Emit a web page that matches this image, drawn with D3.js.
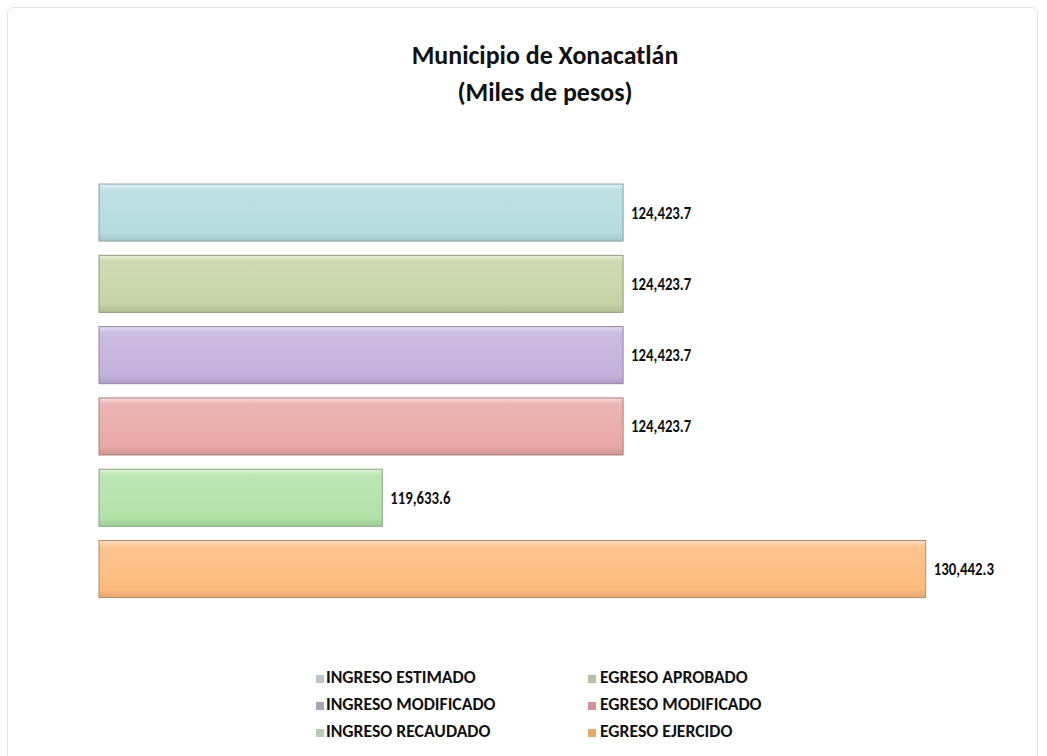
<!DOCTYPE html>
<html>

<head>
  <meta charset="utf-8" />
  <title>Municipio de Xonacatlán</title>
  <style>
    body {
      margin: 0;
      background: #fff;
    }

    text {
      font-family: Carlito, Calibri, 'Open Sans', sans-serif;
      font-weight: bold;
      fill: #111;
    }
  </style>
  <script src="https://cdnjs.cloudflare.com/ajax/libs/d3/7.8.5/d3.min.js"></script>
</head>

<body>
  <div id="chartArea"></div>
  <script>
    var categories = ['INGRESO ESTIMADO', 'EGRESO APROBADO', 'INGRESO MODIFICADO',
      'EGRESO MODIFICADO', 'INGRESO RECAUDADO', 'EGRESO EJERCIDO'];
    var values = [124423.7, 124423.7, 124423.7, 124423.7, 119633.6, 130442.3];
    var barColors = ['#b5dcdf', '#c6d3a6', '#c3b1dd', '#e8a8a6', '#b3e2a8', '#fdbb7e'];
    var legendColors = ['#b9c6cb', '#bcbda6', '#aaa6ba', '#d3909a', '#b9c9b3', '#e7aa66'];
    var titleLines = ['Municipio de Xonacatlán', '(Miles de pesos)'];

    var W = 1047, H = 756;
    var fmt = d3.format(',.1f');

    var svg = d3.select('#chartArea').append('svg')
      .attr('width', W)
      .attr('height', H);

    // outer frame
    svg.append('rect')
      .attr('x', 7.5).attr('y', 7.5)
      .attr('width', 1030).attr('height', 770)
      .attr('rx', 6)
      .attr('fill', '#fff')
      .attr('stroke', '#e2e2de');

    var xScale = d3.scaleLinear()
      .domain([114000, 132000])
      .range([99, 1004]);

    var yScale = d3.scaleBand()
      .domain(categories)
      .range([176.9, 604.7])
      .paddingInner(0.2)
      .paddingOuter(0.1);

    // gradients for the bevelled look
    var defs = svg.append('defs');
    barColors.forEach(function (c, i) {
      var g = defs.append('linearGradient')
        .attr('id', 'grad' + i)
        .attr('x1', 0).attr('y1', 0).attr('x2', 0).attr('y2', 1);
      g.append('stop').attr('offset', '0%').attr('stop-color', d3.interpolateRgb(c, '#fff')(0.6));
      g.append('stop').attr('offset', '10%').attr('stop-color', d3.interpolateRgb(c, '#fff')(0.15));
      g.append('stop').attr('offset', '85%').attr('stop-color', c);
      g.append('stop').attr('offset', '100%').attr('stop-color', d3.interpolateRgb(c, '#000')(0.1));
    });

    // squeeze text horizontally like the narrow lettering of the original
    var condense = function (sel, k) {
      sel.each(function () {
        var len = this.getComputedTextLength();
        d3.select(this).attr('textLength', len * k).attr('lengthAdjust', 'spacingAndGlyphs');
      });
    };

    // title
    svg.selectAll('.title')
      .data(titleLines)
      .enter()
      .append('text')
      .attr('class', 'title')
      .attr('x', 545)
      .attr('y', (d, i) => 64 + i * 37)
      .attr('text-anchor', 'middle')
      .style('font-size', '27px')
      .text(d => d)
      .call(condense, 0.96);

    var bars = svg.selectAll('.bar')
      .data(values)
      .enter()
      .append('g')
      .attr('class', 'bar');

    bars.append('rect')
      .attr('x', xScale.range()[0])
      .attr('y', (d, i) => yScale(categories[i]))
      .attr('width', d => xScale(d) - xScale.range()[0])
      .attr('height', yScale.bandwidth())
      .attr('fill', (d, i) => 'url(#grad' + i + ')')
      .attr('stroke', (d, i) => d3.interpolateRgb(barColors[i], '#333')(0.35))
      .attr('stroke-width', 1);

    bars.append('text')
      .attr('x', d => xScale(d) + 8)
      .attr('y', (d, i) => yScale(categories[i]) + yScale.bandwidth() / 2)
      .attr('dy', '0.35em')
      .style('font-size', '17px')
      .text(d => fmt(d))
      .call(condense, 0.87);

    // legend, two columns
    var legend = svg.selectAll('.legend')
      .data(categories)
      .enter()
      .append('g')
      .attr('class', 'legend')
      .attr('transform', (d, i) => 'translate(' + (i % 2 ? 588 : 316) + ',' + (683 + Math.floor(i / 2) * 27) + ')');

    legend.append('rect')
      .attr('x', 0).attr('y', -8)
      .attr('width', 8).attr('height', 8)
      .attr('fill', (d, i) => legendColors[i]);

    legend.append('text')
      .attr('x', (d, i) => i % 2 ? 12 : 10)
      .attr('y', 0)
      .style('font-size', '19px')
      .text(d => d)
      .call(condense, 0.93);
  </script>
</body>

</html>
